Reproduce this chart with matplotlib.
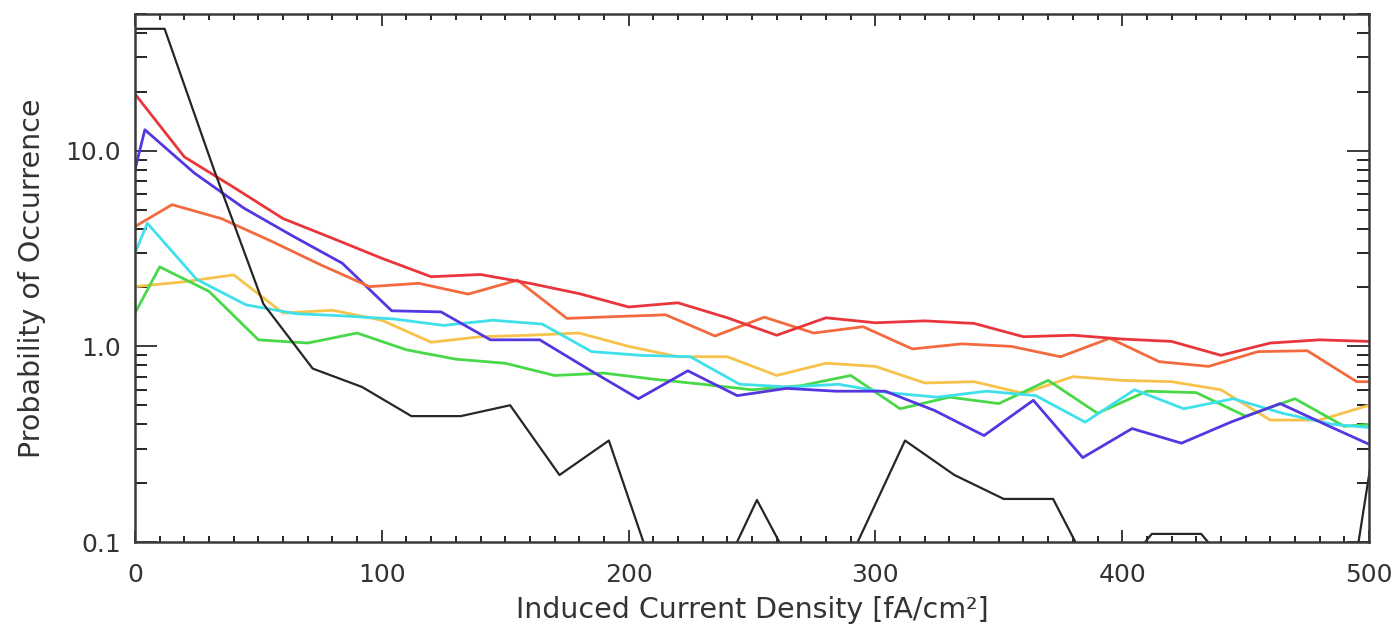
import matplotlib
matplotlib.use("Agg")
import matplotlib.pyplot as plt
import numpy as np
from matplotlib.ticker import FixedLocator, MultipleLocator, NullFormatter

plt.rcParams['font.family'] = ['DejaVu Sans']

# ======== data ========
black_x = [-8, 12, 32, 52, 72, 92, 112, 132, 152, 172, 192, 212, 232, 252, 272,
           292, 312, 332, 352, 372, 392, 412, 432, 452, 472, 492, 512]
black_y = [42, 42, 8.0, 1.65, 0.77, 0.62, 0.44, 0.44, 0.50, 0.22, 0.33, 0.06, 0.048,
           0.164, 0.055, 0.095, 0.33, 0.22, 0.166, 0.166, 0.054, 0.11, 0.11, 0.055,
           0.05, 0.05, 2.0]

red_x = [0, 20, 40, 60, 80, 100, 120, 140, 160, 180, 200, 220, 240, 260, 280, 300,
         320, 340, 360, 380, 400, 420, 440, 460, 480, 500]
red_y = [19.5, 9.3, 6.5, 4.5, 3.57, 2.82, 2.27, 2.33, 2.1, 1.86, 1.59, 1.67, 1.40,
         1.14, 1.40, 1.32, 1.35, 1.31, 1.12, 1.14, 1.09, 1.06, 0.90, 1.04, 1.08, 1.06]

orange_x = [0, 15, 35, 55, 75, 95, 115, 135, 155, 175, 195, 215, 235, 255, 275, 295,
            315, 335, 355, 375, 395, 415, 435, 455, 475, 495, 515]
orange_y = [4.1, 5.3, 4.5, 3.46, 2.62, 2.02, 2.10, 1.85, 2.18, 1.39, 1.42, 1.45, 1.13,
            1.41, 1.17, 1.26, 0.97, 1.03, 1.0, 0.885, 1.10, 0.835, 0.79, 0.94, 0.95,
            0.66, 0.66]

blue_x = [0, 4, 24, 44, 64, 84, 104, 124, 144, 164, 184, 204, 224, 244, 264, 284,
          304, 324, 344, 364, 384, 404, 424, 444, 464, 484, 504]
blue_y = [8.0, 12.8, 7.7, 5.1, 3.66, 2.66, 1.52, 1.50, 1.08, 1.08, 0.76, 0.54, 0.75,
          0.56, 0.61, 0.59, 0.59, 0.47, 0.35, 0.53, 0.27, 0.38, 0.32, 0.41, 0.51,
          0.39, 0.30]

cyan_x = [0, 5, 25, 45, 65, 85, 105, 125, 145, 165, 185, 205, 225, 245, 265, 285,
          305, 325, 345, 365, 385, 405, 425, 445, 465, 485, 505]
cyan_y = [3.0, 4.26, 2.2, 1.63, 1.47, 1.43, 1.38, 1.28, 1.36, 1.30, 0.94, 0.90, 0.885,
          0.64, 0.62, 0.64, 0.58, 0.55, 0.59, 0.56, 0.41, 0.60, 0.48, 0.54, 0.455,
          0.40, 0.38]

yellow_x = [0, 20, 40, 60, 80, 100, 120, 140, 160, 180, 200, 220, 240, 260, 280, 300,
            320, 340, 360, 380, 400, 420, 440, 460, 480, 500]
yellow_y = [2.02, 2.14, 2.32, 1.48, 1.53, 1.36, 1.05, 1.12, 1.14, 1.17, 1.0, 0.885,
            0.885, 0.71, 0.82, 0.79, 0.65, 0.66, 0.575, 0.70, 0.67, 0.66, 0.60, 0.42,
            0.42, 0.50]

green_x = [0, 10, 30, 50, 70, 90, 110, 130, 150, 170, 190, 210, 230, 250, 270, 290,
           310, 330, 350, 370, 390, 410, 430, 450, 470, 490, 510]
green_y = [1.48, 2.55, 1.91, 1.08, 1.04, 1.17, 0.96, 0.86, 0.82, 0.71, 0.73, 0.68,
           0.64, 0.60, 0.63, 0.71, 0.48, 0.55, 0.51, 0.67, 0.455, 0.59, 0.58, 0.44,
           0.54, 0.39, 0.41]

x_ticks = [0, 100, 200, 300, 400, 500]
y_ticks = [0.1, 1.0, 10.0]
y_ticklabels = ['0.1', '1.0', '10.0']

# ======== figure ========
fig = plt.figure(figsize=(13.99, 6.29), dpi=100)
ax = fig.add_axes([135 / 1399, 1 - 542 / 629, (1369 - 135) / 1399, (542 - 14) / 629])

ax.plot(yellow_x, yellow_y, color='#F7C24A', lw=2.0)
ax.plot(green_x, green_y, color='#48D848', lw=2.0)
ax.plot(cyan_x, cyan_y, color='#3FE0EC', lw=2.0)
ax.plot(blue_x, blue_y, color='#5536E0', lw=2.0)
ax.plot(orange_x, orange_y, color='#F26A3E', lw=2.0)
ax.plot(red_x, red_y, color='#E8363C', lw=2.0)
ax.plot(black_x, black_y, color='#262626', lw=1.6)

ax.set_yscale('log')
ax.set_xlim(0, 500)
ax.set_ylim(0.1, 50)

ax.set_xticks(x_ticks)
ax.set_xticklabels([str(t) for t in x_ticks])
ax.xaxis.set_minor_locator(MultipleLocator(10))
ax.set_yticks(y_ticks)
ax.set_yticklabels(y_ticklabels)
minor_y = [m * d for d in (0.1, 1, 10) for m in range(2, 10) if m * d <= 50]
ax.yaxis.set_minor_locator(FixedLocator(minor_y))
ax.yaxis.set_minor_formatter(NullFormatter())

edge = '#3a3a3a'
for s in ax.spines.values():
    s.set_color(edge)
    s.set_linewidth(1.8)

ax.tick_params(axis='x', which='major', direction='in', length=8.5, width=1.4,
               top=True, bottom=True, pad=15, labelsize=18, colors=edge)
ax.tick_params(axis='x', which='minor', direction='in', length=4.5, width=1.2,
               top=True, bottom=True)
ax.tick_params(axis='y', which='major', direction='in', length=16, width=1.4,
               left=True, right=True, pad=10, labelsize=18, colors=edge)
ax.tick_params(axis='y', which='minor', direction='in', length=8.5, width=1.2,
               left=True, right=True)
for lab in ax.get_xticklabels() + ax.get_yticklabels():
    lab.set_color('#333333')

ax.set_xlabel('Induced Current Density [fA/cm²]', fontsize=20.5, color='#333333')
ax.set_ylabel('Probability of Occurrence', fontsize=20.5, color='#333333')
ax.xaxis.set_label_coords(0.5, -0.102)
ax.yaxis.set_label_coords(-0.072, 0.5)

fig.savefig('out.png', dpi=100, facecolor='white')
